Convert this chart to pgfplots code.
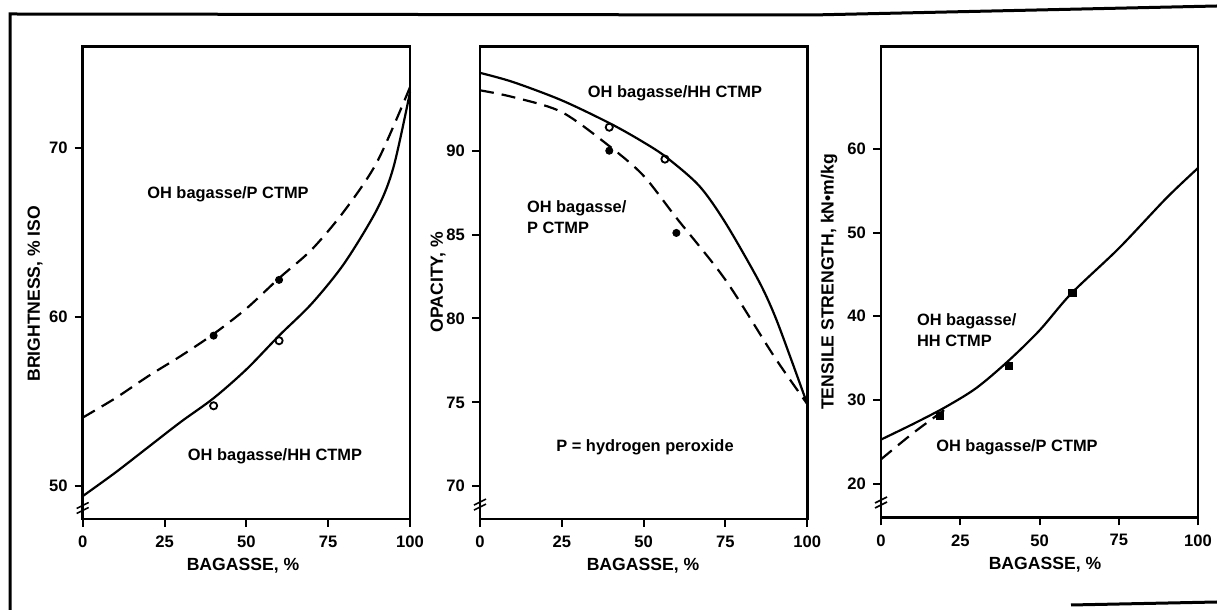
\documentclass[border=0pt]{standalone}
\usepackage{fontspec}
\setmainfont{Liberation Sans}
\usepackage{pgfplots}
\pgfplotsset{compat=1.18}
\pgfplotsset{
  myaxis/.style={
    anchor=south west, scale only axis, clip=false,
    xmin=0, xmax=100, xtick={0,25,50,75,100},
    axis line style={line width=1.4pt},
    tick style={line width=1pt, black},
    tick align=outside, major tick length=4pt,
    xtick pos=left, ytick pos=left,
    ticklabel style={font=\fontsize{8.3}{9}\selectfont\bfseries},
    /pgf/number format/assume math mode=true,
    xticklabel style={yshift=-1pt},
  },
  solidc/.style={black, line width=1.1pt, smooth, no marks},
  dashc/.style={black, line width=1.1pt, smooth, no marks, dash pattern=on 7pt off 4pt},
}
\newcommand{\ann}{\fontsize{8.2}{9}\selectfont\bfseries}
\newcommand{\lab}{\fontsize{8.8}{10}\selectfont\bfseries}
\begin{document}
\begin{tikzpicture}[x=1pt,y=1pt]
\useasboundingbox (0,0) rectangle (608.5,305);
% outer frame
\draw[line width=1.5pt] (5,0) -- (5,298) -- (406,297.5) -- (608.5,302);
\draw[line width=1.5pt] (535.5,2.5) -- (608.5,4);

% ---------------- Panel 1 ----------------
\begin{axis}[myaxis, at={(41.35pt,45.5pt)}, width=163.65pt, height=236.15pt,
  ymin=48.05, ymax=76.0, ytick={50,60,70}]
\addplot[dashc] coordinates {(0,54.05) (10,55.2) (20,56.5) (30,57.7) (40,59.0) (50,60.5) (60,62.3) (70,64.0) (80,66.3) (90,69.2) (100,73.6)};
\addplot[only marks, mark=*, mark size=1.8pt, black] coordinates {(40,58.9) (60,62.2)};
\addplot[solidc] coordinates {(0,49.4) (10,50.8) (20,52.3) (30,53.8) (40,55.2) (50,56.9) (60,58.9) (70,60.8) (80,63.2) (90,66.4) (95,68.9) (100,73.3)};
\addplot[only marks, mark=o, mark size=1.8pt, black, mark options={line width=0.9pt}] coordinates {(40,54.75) (60,58.6)};
\draw[line width=0.8pt] ([xshift=-3pt,yshift=-1.5pt]axis cs:0,48.85) -- ++(6pt,3pt);
\draw[line width=0.8pt] ([xshift=-3pt,yshift=-4pt]axis cs:0,48.85) -- ++(6pt,3pt);
\end{axis}
\node[font=\ann] at (114,207.75) {OH bagasse/P CTMP};
\node[font=\ann] at (137.5,76.65) {OH bagasse/HH CTMP};
\node[font=\lab, rotate=90] at (17.5,158.15) {BRIGHTNESS, \% ISO};
\node[font=\lab] at (121.5,22) {BAGASSE, \%};

% ---------------- Panel 2 ----------------
\begin{axis}[myaxis, at={(240pt,45.5pt)}, width=163.65pt, height=236.15pt,
  ymin=68.05, ymax=96.2, ytick={70,75,80,85,90}]
\addplot[solidc] coordinates {(0,94.64) (10,94.1) (25,93.0) (40,91.6) (50,90.5) (57,89.6) (67,87.9) (75,85.7) (85,82.3) (90,80.2) (95,77.6) (100,74.9)};
\addplot[only marks, mark=o, mark size=1.8pt, black, mark options={line width=0.9pt}] coordinates {(39.5,91.4) (56.5,89.5)};
\addplot[dashc] coordinates {(0,93.6) (10,93.2) (25,92.3) (40,90.2) (50,88.5) (60,86.0) (75,82.3) (90,77.7) (100,74.9)};
\addplot[only marks, mark=*, mark size=1.8pt, black] coordinates {(39.5,90.0) (60,85.1)};
\draw[line width=0.8pt] ([xshift=-3pt,yshift=-1.5pt]axis cs:0,69.06) -- ++(6pt,3pt);
\draw[line width=0.8pt] ([xshift=-3pt,yshift=-4pt]axis cs:0,69.06) -- ++(6pt,3pt);
\end{axis}
\node[font=\ann] at (337.5,258.3) {OH bagasse/HH CTMP};
\node[font=\ann, anchor=west] at (260,201) {OH bagasse/};
\node[font=\ann, anchor=west] at (260,191.2) {P CTMP};
\node[font=\ann] at (322.5,81.25) {P = hydrogen peroxide};
\node[font=\lab, rotate=90] at (219,164) {OPACITY, \%};
\node[font=\lab] at (321.5,22) {BAGASSE, \%};

% ---------------- Panel 3 ----------------
\begin{axis}[myaxis, at={(440.5pt,46.25pt)}, width=158.5pt, height=235.4pt,
  ymin=15.95, ymax=72.2, ytick={20,30,40,50,60}]
\addplot[solidc] coordinates {(0,25.26) (10,27.1) (20,29.07) (30,31.4) (40,34.6) (50,38.3) (60,42.7) (75,48.1) (90,54.1) (100,57.7)};
\addplot[dashc] coordinates {(0,22.9) (10,26.0) (20,28.8)};
\addplot[only marks, mark=square*, mark size=1.8pt, black] coordinates {(18.5,28.1) (40.3,34.1) (60.4,42.8)};
\draw[line width=0.8pt] ([xshift=-3pt,yshift=-1.5pt]axis cs:0,18.04) -- ++(6pt,3pt);
\draw[line width=0.8pt] ([xshift=-3pt,yshift=-4pt]axis cs:0,18.04) -- ++(6pt,3pt);
\end{axis}
\node[font=\ann, anchor=west] at (455,144.5) {OH bagasse/};
\node[font=\ann, anchor=west] at (455,134.75) {HH CTMP};
\node[font=\ann] at (508.5,81.25) {OH bagasse/P CTMP};
\node[font=\lab, rotate=90] at (414.5,164) {TENSILE STRENGTH, kN•m/kg};
\node[font=\lab] at (522.5,22.5) {BAGASSE, \%};
\end{tikzpicture}
\end{document}
